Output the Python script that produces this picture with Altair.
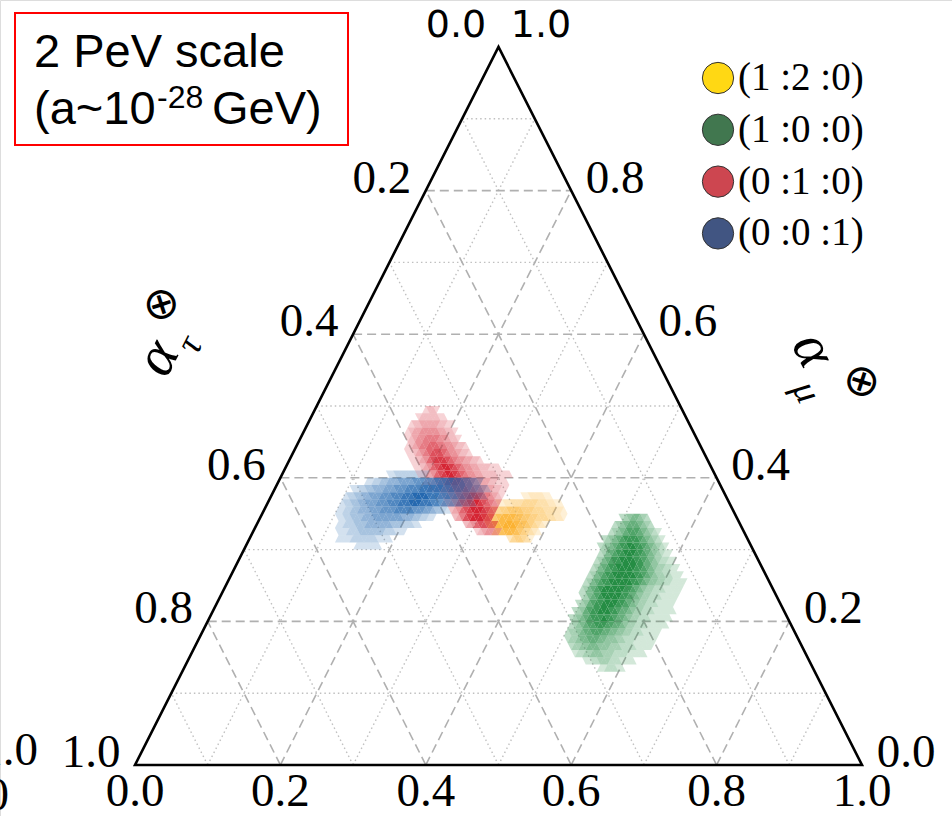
import altair as alt
import pandas as pd

# number of triangular subdivisions along each side of the simplex
N = 100

# tick values shown on the three sides
tick_values = [0.0, 0.2, 0.4, 0.6, 0.8, 1.0]
tick_labels = ["0.0", "0.2", "0.4", "0.6", "0.8", "1.0"]
grid_levels = [1, 2, 3, 4, 5, 6, 7, 8, 9]

# flavour-ratio hypotheses at the source
series_keys = ["y120", "g100", "r010", "b001"]
series_labels = ["(1 :2 :0)", "(1 :0 :0)", "(0 :1 :0)", "(0 :0 :1)"]
legend_colors = ["#ffd814", "#41774f", "#cd4650", "#415582"]
cell_colors = ["#fbb02c", "#1f8a3f", "#d41f2e", "#1f65ae"]

# density cells: (row from apex, first half-cell offset, density level per cell 1..9)
yellow_rows = [
    (62, 7, "11222211"),
    (63, 0, "112233344443332211"),
    (64, -3, "1234556666555444333221"),
    (65, -4, "23567888877665544433221"),
    (66, -3, "35788999877654321"),
    (67, -1, "3578887654321"),
    (68, 3, "2455431"),
]
green_rows = [
    (65, 34, "23455432"),
    (66, 32, "23456665432"),
    (67, 31, "23456777654321"),
    (68, 29, "23456788887654321"),
    (69, 28, "2345678899887654321"),
    (70, 28, "23567889998876543211"),
    (71, 27, "2356788999988765432211"),
    (72, 26, "235678899999887654332211"),
    (73, 25, "23567889999998876543322111"),
    (74, 24, "2356788999999887654433221111"),
    (75, 23, "2356789999998876543322211111"),
    (76, 23, "235678999998876543322211111"),
    (77, 22, "234678899998876543322211111"),
    (78, 21, "2346788999887665433222111111"),
    (79, 20, "2345678889887665433222111111"),
    (80, 20, "234567788877665433222111111"),
    (81, 19, "23345667776655443322211111"),
    (82, 19, "2334556665544433222111111"),
    (83, 20, "23344555444333222211111"),
    (84, 21, "12233444333222211111"),
    (85, 24, "11223332221111"),
    (86, 28, "1122211"),
]
red_rows = [
    (50, -20, "1221"),
    (51, -22, "12222211"),
    (52, -24, "122333332211"),
    (53, -25, "12334444433221"),
    (54, -25, "123445555443221"),
    (55, -25, "12345566655443221"),
    (56, -25, "112345677765443221"),
    (57, -24, "11234678887654433221"),
    (58, -23, "112346789987654433222111"),
    (59, -22, "11234678998765443322221111"),
    (60, -20, "11234578887665443322111"),
    (61, -19, "1123456777766554332211"),
    (62, -16, "123456778887654321"),
    (63, -15, "1234677889876543"),
    (64, -13, "2346789998765"),
    (65, -12, "23578999876"),
    (66, -9, "234677654"),
    (67, -6, "1234432"),
]
blue_rows = [
    (59, -30, "11222222111"),
    (60, -36, "11223344455556666667777766655432"),
    (61, -40, "11223344455566677778888887776665544321"),
    (62, -42, "122334455566677788899998887776655443221"),
    (63, -43, "1223344555666777888999888776655443221"),
    (64, -44, "1122334445556666777776665543321"),
    (65, -44, "112233344455555555444332211"),
    (66, -44, "11222333444444433322211"),
    (67, -44, "1112223333333222111"),
    (68, -44, "111122222221111"),
    (69, -39, "1111111"),
]

W, H = 952, 816
# plot-space scales: simplex base spans [0, 1] horizontally, height spans [0, 1]
xs = alt.Scale(domain=[-135 / 727, 817 / 727], range=[0, W], nice=False, zero=False)
ys = alt.Scale(domain=[-51 / 718, 765 / 718], range=[H, 0], nice=False, zero=False)
X = alt.X("X:Q", scale=xs, axis=None)
Y = alt.Y("Y:Q", scale=ys, axis=None)

SERIF = "Liberation Serif"


def expand(rows, key):
    out = []
    for r, q0, levels in rows:
        for k, ch in enumerate(levels):
            out.append({"r": r, "q": q0 + k, "level": int(ch), "series": key})
    return out


# triangle glyphs (unit box, slightly flattened to the simplex aspect)
cell_w = 727 / N
UP = "M0,-0.988L1,0.988L-1,0.988Z"
DOWN = "M0,0.988L1,-0.988L-1,-0.988Z"


def cell_layer(rows, key):
    df = pd.DataFrame(expand(rows, key))
    return alt.Chart(df).transform_calculate(
        X=f"0.5 + datum.q / {2 * N}",
        Y=f"1 - (datum.r + 0.5) / {N}",
        dir="(datum.q + datum.r) % 2 == 0 ? 'up' : 'down'",
        alpha="min(1, 0.1 + datum.level * 0.097)",
    ).mark_point(filled=True, size=cell_w * cell_w, strokeWidth=0).encode(
        x=X, y=Y,
        shape=alt.Shape("dir:N", scale=alt.Scale(domain=["up", "down"], range=[UP, DOWN]), legend=None),
        color=alt.Color("series:N", scale=alt.Scale(domain=series_keys, range=cell_colors), legend=None),
        opacity=alt.Opacity("alpha:Q", scale=None),
    )


# grid lines in three directions
grid = []
for k in grid_levels:
    t = k / 10
    style = "dash" if k % 2 == 0 else "dot"
    grid.append({"x1": t / 2, "y1": t, "x2": 1 - t / 2, "y2": t, "style": style})
    grid.append({"x1": t, "y1": 0, "x2": t + (1 - t) / 2, "y2": 1 - t, "style": style})
    grid.append({"x1": t, "y1": 0, "x2": t / 2, "y2": t, "style": style})
grid_df = pd.DataFrame(grid)

grid_dash = alt.Chart(grid_df).transform_filter("datum.style == 'dash'").mark_rule(
    color="#b0b0b0", strokeWidth=1.6, strokeDash=[9, 5]
).encode(x=alt.X("x1:Q", scale=xs, axis=None), y=alt.Y("y1:Q", scale=ys, axis=None), x2="x2:Q", y2="y2:Q")
grid_dot = alt.Chart(grid_df).transform_filter("datum.style == 'dot'").mark_rule(
    color="#c0c0c0", strokeWidth=1.4, strokeDash=[1.5, 3]
).encode(x=alt.X("x1:Q", scale=xs, axis=None), y=alt.Y("y1:Q", scale=ys, axis=None), x2="x2:Q", y2="y2:Q")

corners = pd.DataFrame({"X": [0, 1, 0.5, 0, 1], "Y": [0, 0, 1, 0, 0], "o": [0, 1, 2, 3, 4]})
outline = alt.Chart(corners).mark_line(color="black", strokeWidth=2.6, strokeJoin="miter").encode(
    x=X, y=Y, order="o:Q"
)

ticks = pd.DataFrame({"v": tick_values, "label": tick_labels})
tick_font = dict(font=SERIF, fontSize=47)
bottom_lbl = alt.Chart(ticks).transform_calculate(X="datum.v", Y="0").mark_text(
    align="center", baseline="alphabetic", dy=41, **tick_font
).encode(x=X, y=Y, text="label:N")
left_lbl = alt.Chart(ticks).transform_filter("datum.v > 0").transform_calculate(
    X="(1 - datum.v) / 2", Y="1 - datum.v"
).mark_text(align="center", baseline="middle", dx=-44, dy=-12, **tick_font).encode(x=X, y=Y, text="label:N")
right_lbl = alt.Chart(ticks).transform_filter("datum.v < 1").transform_calculate(
    X="1 - datum.v / 2", Y="datum.v"
).mark_text(align="center", baseline="middle", dx=44, dy=-12, **tick_font).encode(x=X, y=Y, text="label:N")
apex = pd.DataFrame({"label": ["0.0", "1.0"], "side": [-1, 1]})
apex_lbl = alt.Chart(apex).transform_calculate(
    X="0.5 + datum.side * 0.0585", Y="1"
).mark_text(font="DejaVu Sans", fontSize=38, baseline="middle", align="center", dy=-21).encode(
    x=X, y=Y, text="label:N"
)

# axis titles
left_title = [
    alt.Chart().mark_text(text="α", font=SERIF, fontStyle="italic", fontSize=58, angle=297).encode(
        x=alt.value(158), y=alt.value(358)),
    alt.Chart().mark_text(text="τ", font=SERIF, fontStyle="italic", fontSize=38, angle=297).encode(
        x=alt.value(190), y=alt.value(345)),
    alt.Chart().mark_text(text="⊗", font="DejaVu Sans", fontSize=44, angle=297).encode(
        x=alt.value(162), y=alt.value(305)),
]
right_title = [
    alt.Chart().mark_text(text="α", font=SERIF, fontStyle="italic", fontSize=58, angle=63).encode(
        x=alt.value(813), y=alt.value(350)),
    alt.Chart().mark_text(text="μ", font=SERIF, fontStyle="italic", fontSize=38, angle=63).encode(
        x=alt.value(806), y=alt.value(392)),
    alt.Chart().mark_text(text="⊗", font="DejaVu Sans", fontSize=44, angle=63).encode(
        x=alt.value(861), y=alt.value(382)),
]

# legend
leg = pd.DataFrame({"i": [0, 1, 2, 3], "label": series_labels, "c": legend_colors})
leg_dots = alt.Chart(leg).transform_calculate(py="78 + 51.8 * datum.i").mark_point(
    filled=True, size=980, stroke="#333333", strokeWidth=1, opacity=1
).encode(x=alt.value(718), y=alt.Y("py:Q", scale=None), fill=alt.Fill("c:N", scale=None))
leg_text = alt.Chart(leg).transform_calculate(py="78 + 51.8 * datum.i").mark_text(
    font=SERIF, fontSize=39, align="left", baseline="middle"
).encode(x=alt.value(738), y=alt.Y("py:Q", scale=None), text="label:N")

# annotation box
box = alt.Chart().mark_rect(fill="white", stroke="#ff0000", strokeWidth=2).encode(
    x=alt.value(15), x2=alt.value(348), y=alt.value(13), y2=alt.value(145)
)
sans = "Liberation Sans"
note = [
    alt.Chart().mark_text(text="2 PeV scale", font=sans, fontSize=47, align="left", baseline="alphabetic").encode(
        x=alt.value(34), y=alt.value(67)),
    alt.Chart().mark_text(text="(a~10", font=sans, fontSize=47, align="left", baseline="alphabetic").encode(
        x=alt.value(34), y=alt.value(124)),
    alt.Chart().mark_text(text="-28", font=sans, fontSize=32, align="left", baseline="alphabetic").encode(
        x=alt.value(157), y=alt.value(108)),
    alt.Chart().mark_text(text="GeV)", font=sans, fontSize=47, align="left", baseline="alphabetic").encode(
        x=alt.value(212), y=alt.value(124)),
]

# partially visible labels at the far left edge
edge = [
    alt.Chart().mark_text(text="1.0", font=SERIF, fontSize=47, align="right", baseline="middle").encode(
        x=alt.value(38), y=alt.value(751)),
    alt.Chart().mark_text(text="0.0", font=SERIF, fontSize=47, align="right", baseline="alphabetic").encode(
        x=alt.value(9), y=alt.value(810)),
]

chart = alt.layer(
    grid_dot, grid_dash,
    cell_layer(yellow_rows, "y120"),
    cell_layer(green_rows, "g100"),
    cell_layer(red_rows, "r010"),
    cell_layer(blue_rows, "b001"),
    outline,
    bottom_lbl, left_lbl, right_lbl, apex_lbl,
    *left_title, *right_title,
    leg_dots, leg_text,
    box, *note, *edge,
).properties(
    width=W, height=H, padding=0, autosize=alt.AutoSizeParams(type="none")
).configure_view(stroke=None).configure(background="white")

chart.save("out.html", embed_options={"renderer": "svg", "actions": False})
